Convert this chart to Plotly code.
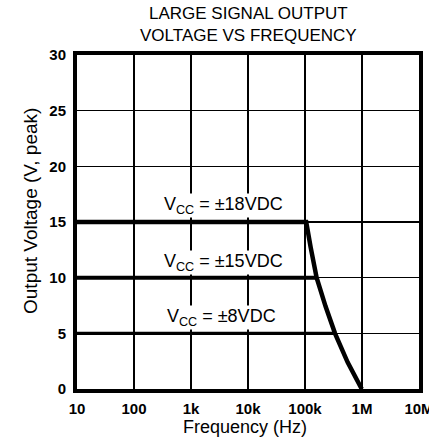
import math
import plotly.graph_objects as go

# Data
freq_18 = [10, 1.05e5, 1.26e5, 1.6e5, 2.3e5, 3.36e5, 5.6e5, 9.9e5]
volt_18 = [15, 15, 12.7, 10, 7.4, 5, 2.4, 0]
freq_15 = [10, 1.6e5]
volt_15 = [10, 10]
freq_8 = [10, 3.36e5]
volt_8 = [5, 5]
x_tick_vals = [10, 100, 1e3, 1e4, 1e5, 1e6, 1e7]
x_tick_text = ["10", "100", "1k", "10k", "100k", "1M", "10M"]
y_tick_vals = [0, 5, 10, 15, 20, 25, 30]
y_tick_text = ["0", "5", "10", "15", "20", "25", "30"]
labels = ["V<sub>CC</sub> = ±18VDC", "V<sub>CC</sub> = ±15VDC", "V<sub>CC</sub> = ±8VDC"]
label_x = [3.7e3, 3.7e3, 3.4e3]
label_y = [16.5, 11.4, 6.4]
title_text = "LARGE SIGNAL OUTPUT<br>VOLTAGE VS FREQUENCY"

FONT = "Liberation Sans, Arial, sans-serif"

fig = go.Figure()
fig.add_trace(go.Scatter(x=freq_18, y=volt_18, mode="lines",
                         line=dict(color="black", width=4.5), hoverinfo="skip"))
fig.add_trace(go.Scatter(x=freq_15, y=volt_15, mode="lines",
                         line=dict(color="black", width=4), hoverinfo="skip"))
fig.add_trace(go.Scatter(x=freq_8, y=volt_8, mode="lines",
                         line=dict(color="black", width=3.2), hoverinfo="skip"))

for t, xx, yy in zip(labels, label_x, label_y):
    fig.add_annotation(x=math.log10(xx), y=yy, xref="x", yref="y", text=t, showarrow=False,
                       font=dict(family=FONT, size=18, color="black"),
                       xanchor="center", yanchor="middle",
                       bgcolor="white", borderpad=0)

# chart title
fig.add_annotation(x=0.5, y=1, xref="paper", yref="paper", yanchor="middle",
                   xanchor="center", yshift=31, showarrow=False, text=title_text,
                   font=dict(family=FONT, size=17, color="black"))
# y axis title
fig.add_annotation(x=0, y=0.533, xref="paper", yref="paper", xanchor="center",
                   yanchor="middle", xshift=-46, textangle=-90, showarrow=False,
                   text="Output Voltage (V, peak)",
                   font=dict(family=FONT, size=19, color="black"))
# x axis title
fig.add_annotation(x=0.49, y=0, xref="paper", yref="paper", xanchor="center",
                   yanchor="middle", yshift=-38, showarrow=False,
                   text="Frequency (Hz)",
                   font=dict(family=FONT, size=18, color="black"))

fig.update_layout(
    width=429, height=437,
    margin=dict(l=77, r=10, t=55, b=48),
    paper_bgcolor="white", plot_bgcolor="white",
    showlegend=False,
    xaxis=dict(type="log", range=[1, 7], tickvals=x_tick_vals,
               ticktext=["<b>%s</b>" % s for s in x_tick_text],
               showgrid=True, gridcolor="black", gridwidth=1.3,
               showline=True, linecolor="black", linewidth=4, mirror=True,
               ticks="", zeroline=False, tickangle=0, ticklabelstandoff=3,
               ticklabeloverflow="allow", automargin=False,
               tickfont=dict(family=FONT, size=15, color="black")),
    yaxis=dict(range=[0, 30], tickvals=y_tick_vals,
               ticktext=["<b>%s</b>" % s for s in y_tick_text],
               showgrid=True, gridcolor="black", gridwidth=1.3,
               showline=True, linecolor="black", linewidth=4, mirror=True,
               ticks="", zeroline=False, tickangle=0, ticklabelstandoff=4,
               automargin=False,
               tickfont=dict(family=FONT, size=15, color="black")),
)

fig.write_html("out.html",
               config={"displayModeBar": False, "staticPlot": True},
               post_script="document.body.style.margin='0';document.body.style.overflow='hidden';")
